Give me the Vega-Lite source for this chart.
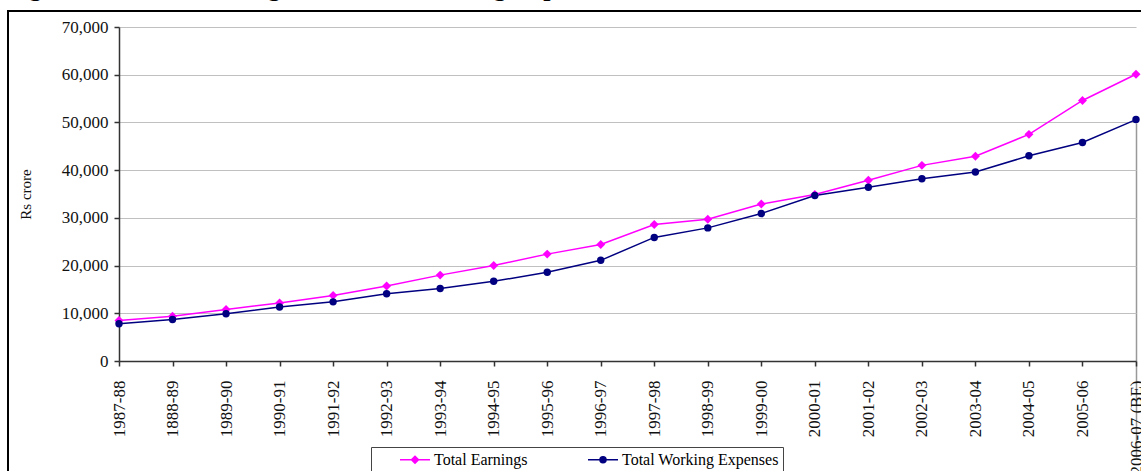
{
  "$schema": "https://vega.github.io/schema/vega-lite/v6.json",
  "width": 1135,
  "height": 462,
  "autosize": "none",
  "padding": {"left": 8, "top": 11, "right": -2, "bottom": -2},
  "background": "white",
  "config": {
    "view": {"stroke": "#000", "strokeWidth": 2},
    "font": "Liberation Serif"
  },
  "title": {
    "text": "Figure 10: Total Earnings and Total Working Expenses",
    "anchor": "start",
    "frame": "group",
    "font": "Liberation Serif",
    "fontSize": 26,
    "fontWeight": "bold",
    "color": "#000",
    "baseline": "alphabetic",
    "offset": 0,
    "dy": 11,
    "dx": -2
  },
  "data": {
    "values": [
      {"year": "1987-88", "series": "Total Earnings", "value": 8500},
      {"year": "1888-89", "series": "Total Earnings", "value": 9400},
      {"year": "1989-90", "series": "Total Earnings", "value": 10800},
      {"year": "1990-91", "series": "Total Earnings", "value": 12150},
      {"year": "1991-92", "series": "Total Earnings", "value": 13750},
      {"year": "1992-93", "series": "Total Earnings", "value": 15700},
      {"year": "1993-94", "series": "Total Earnings", "value": 18000},
      {"year": "1994-95", "series": "Total Earnings", "value": 20000},
      {"year": "1995-96", "series": "Total Earnings", "value": 22400},
      {"year": "1996-97", "series": "Total Earnings", "value": 24400},
      {"year": "1997-98", "series": "Total Earnings", "value": 28600},
      {"year": "1998-99", "series": "Total Earnings", "value": 29700},
      {"year": "1999-00", "series": "Total Earnings", "value": 32900},
      {"year": "2000-01", "series": "Total Earnings", "value": 34900},
      {"year": "2001-02", "series": "Total Earnings", "value": 37900},
      {"year": "2002-03", "series": "Total Earnings", "value": 41000},
      {"year": "2003-04", "series": "Total Earnings", "value": 42900},
      {"year": "2004-05", "series": "Total Earnings", "value": 47500},
      {"year": "2005-06", "series": "Total Earnings", "value": 54600},
      {"year": "2006-07 (BE)", "series": "Total Earnings", "value": 60100},
      {"year": "1987-88", "series": "Total Working Expenses", "value": 7800},
      {"year": "1888-89", "series": "Total Working Expenses", "value": 8700},
      {"year": "1989-90", "series": "Total Working Expenses", "value": 9900},
      {"year": "1990-91", "series": "Total Working Expenses", "value": 11300},
      {"year": "1991-92", "series": "Total Working Expenses", "value": 12400},
      {"year": "1992-93", "series": "Total Working Expenses", "value": 14100},
      {"year": "1993-94", "series": "Total Working Expenses", "value": 15200},
      {"year": "1994-95", "series": "Total Working Expenses", "value": 16700},
      {"year": "1995-96", "series": "Total Working Expenses", "value": 18600},
      {"year": "1996-97", "series": "Total Working Expenses", "value": 21100},
      {"year": "1997-98", "series": "Total Working Expenses", "value": 25900},
      {"year": "1998-99", "series": "Total Working Expenses", "value": 27900},
      {"year": "1999-00", "series": "Total Working Expenses", "value": 30900},
      {"year": "2000-01", "series": "Total Working Expenses", "value": 34700},
      {"year": "2001-02", "series": "Total Working Expenses", "value": 36400},
      {"year": "2002-03", "series": "Total Working Expenses", "value": 38200},
      {"year": "2003-04", "series": "Total Working Expenses", "value": 39600},
      {"year": "2004-05", "series": "Total Working Expenses", "value": 43000},
      {"year": "2005-06", "series": "Total Working Expenses", "value": 45800},
      {"year": "2006-07 (BE)", "series": "Total Working Expenses", "value": 50600}
    ]
  },
  "encoding": {
    "x": {
      "field": "year",
      "type": "ordinal",
      "sort": null,
      "scale": {"type": "point", "range": [111, 1128], "padding": 0},
      "axis": {
        "orient": "bottom",
        "offset": -112,
        "title": null,
        "labelAngle": 270,
        "labelFont": "Liberation Serif",
        "labelFontSize": 17,
        "labelColor": "#111",
        "labelPadding": 14,
        "labelOverlap": false,
        "tickSize": 5,
        "tickColor": "#333",
        "tickWidth": 1.5,
        "domainColor": "#333",
        "domainWidth": 1.5,
        "grid": true,
        "gridColor": "#999",
        "gridWidth": 1.5,
        "gridOpacity": {"condition": {"test": "datum.value === '2006-07 (BE)'", "value": 1}, "value": 0}
      }
    },
    "y": {
      "field": "value",
      "type": "quantitative",
      "scale": {"domain": [0, 70000], "range": [350, 16], "nice": false},
      "axis": {
        "orient": "left",
        "offset": -111,
        "values": [0, 10000, 20000, 30000, 40000, 50000, 60000, 70000],
        "format": ",.0f",
        "labelFont": "Liberation Serif",
        "labelFontSize": 17,
        "labelColor": "#111",
        "labelPadding": 6,
        "tickSize": 5,
        "tickColor": "#333",
        "tickWidth": 1.5,
        "domainColor": "#333",
        "domainWidth": 1.5,
        "grid": true,
        "gridColor": "#c0c0c0",
        "gridWidth": 1,
        "title": "Rs crore",
        "titleFont": "Liberation Serif",
        "titleFontSize": 15,
        "titleFontWeight": "normal",
        "titleColor": "#111",
        "titleX": -94,
        "titleY": 183,
        "titleAngle": 270,
        "titleAlign": "center",
        "titleBaseline": "middle"
      }
    }
  },
  "layer": [
    {
      "mark": {"type": "line", "strokeWidth": 1.5},
      "encoding": {
        "color": {
          "field": "series",
          "type": "nominal",
          "scale": {"domain": ["Total Earnings", "Total Working Expenses"], "range": ["#ff00ff", "#000080"]},
          "legend": {
            "orient": "none",
            "legendX": 363,
            "legendY": 436,
            "direction": "horizontal",
            "columns": 2,
            "title": null,
            "strokeColor": "#444",
            "padding": 4,
            "labelFont": "Liberation Serif",
            "labelFontSize": 16,
            "labelColor": "#000",
            "symbolSize": 225,
            "symbolOffset": 31.5,
            "labelOffset": 10.5,
            "columnPadding": 35,
            "symbolStrokeWidth": 1.5,
            "encode": {
              "symbols": {
                "update": {
                  "shape": {"signal": "datum.value === 'Total Earnings' ? 'M-2,0H2M0,-0.47L0.47,0L0,0.47L-0.47,0Z' : 'M-2,0H2M0.4,0A0.4,0.4,0,1,1,-0.4,0A0.4,0.4,0,1,1,0.4,0Z'"},
                  "fill": {"signal": "datum.value === 'Total Earnings' ? '#ff00ff' : '#000080'"},
                  "fillOpacity": {"value": 1},
                  "opacity": {"value": 1}
                }
              }
            }
          }
        }
      }
    },
    {
      "transform": [{"filter": "datum.series === 'Total Earnings'"}],
      "mark": {"type": "point", "shape": "diamond", "size": 80, "filled": true, "opacity": 1, "color": "#ff00ff"}
    },
    {
      "transform": [{"filter": "datum.series === 'Total Working Expenses'"}],
      "mark": {"type": "point", "shape": "circle", "size": 55, "filled": true, "opacity": 1, "color": "#000080"}
    }
  ]
}
